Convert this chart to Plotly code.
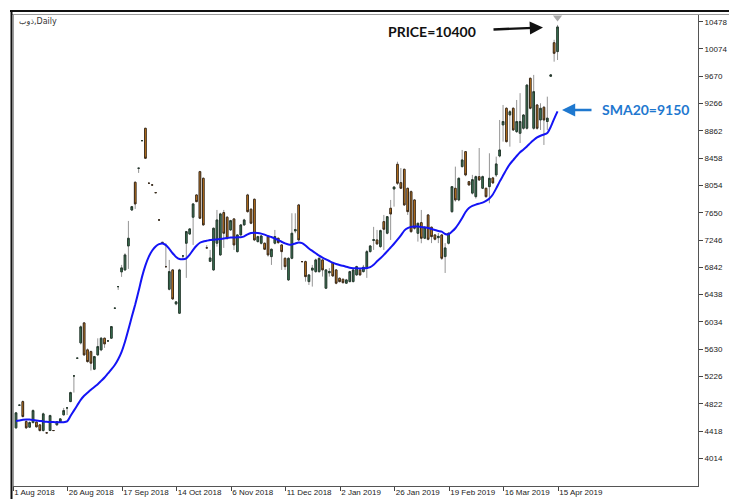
import plotly.graph_objects as go

# ---------------- data ----------------
symbol_title = "ذوب,Daily"

open_ = [
    4465, 4800, 4854, 4558, 4475, 4543, 4550, 4509, 4425, 4391,
    4425, 4425, 4509, 4553, 4657, 4760, 4854, 5234, 5496, 5723,
    6019, 5620, 5594, 5333, 5545, 5619, 5792, 5752, 5792, 6236,
    6556, 6774, 6803, 7158, 7690, 8101, 8308, 8717, 8900, 8086,
    8061, 7947, 7543, 7210, 6851, 6517, 6803, 6300, 6162, 7010,
    7198, 7335, 7583, 7913, 8258, 8160, 7130, 6930, 6803, 7198,
    7025, 7652, 7583, 7395, 7558, 7074, 7321, 7469, 7913, 7701,
    7849, 7222, 7198, 7198, 7296, 7000, 7198, 7272, 7173, 6975,
    6655, 6975, 7380, 7765, 6926, 6926, 6630, 6800, 6778, 6778,
    6951, 6532, 6760, 6911, 6803, 6680, 6665, 6606, 6630, 6630,
    6729, 6803, 6778, 6827, 7074, 7240, 7247, 7148, 7518, 7346,
    7716, 8001, 8367, 8095, 8293, 8012, 7962, 7839, 7345, 7503,
    7272, 7617, 7435, 7321, 7280, 7321, 7000, 7198, 7666, 8012,
    7839, 8332, 8554, 8110, 7940, 7888, 8184, 8012, 8012, 8036,
    8165, 8209, 8490, 8950, 9196, 9097, 9196, 8850, 8826, 8900,
    8900, 9640, 8900, 9245, 9023, 9211, 9000, 9670, 10167, 10035,
]
high = [
    4700, 4810, 4870, 4580, 4560, 4740, 4560, 4520, 4690, 4395,
    4660, 4430, 4565, 4605, 4760, 4765, 5000, 5240, 5500, 5980,
    6030, 5640, 5610, 5530, 5790, 5810, 5800, 5760, 5970, 6240,
    6560, 6877, 7050, 7528, 7750, 8110, 8312, 8722, 8905, 8090,
    8065, 7951, 7547, 7214, 7197, 6951, 6810, 6340, 6820, 7014,
    7380, 7420, 7790, 7920, 8270, 8170, 7170, 7100, 7430, 7691,
    7650, 7691, 7600, 7545, 7570, 7330, 7480, 7560, 7930, 7720,
    7860, 7310, 7320, 7210, 7310, 7120, 7395, 7280, 7180, 6990,
    6990, 7642, 7642, 7780, 6930, 6940, 6740, 6877, 6970, 6990,
    6960, 6815, 6830, 6920, 6815, 6690, 6675, 6670, 6790, 6815,
    6865, 6815, 6877, 7099, 7170, 7440, 7395, 7400, 7617, 7600,
    7839, 8036, 8405, 8312, 8300, 8020, 7980, 7850, 7500, 7691,
    7445, 7630, 7445, 7330, 7350, 7330, 7200, 7360, 8040, 8332,
    8170, 8579, 8560, 8120, 8210, 8200, 8608, 8200, 8020, 8530,
    8180, 8480, 9023, 9245, 9210, 9170, 9210, 9319, 9420, 9110,
    9550, 9650, 9690, 9260, 9270, 9230, 9368, 9700, 10210, 10430,
]
low = [
    4450, 4790, 4620, 4450, 4465, 4530, 4470, 4410, 4410, 4385,
    4420, 4420, 4500, 4545, 4650, 4655, 4845, 4987, 5490, 5700,
    5530, 5430, 5313, 5320, 5530, 5600, 5649, 5745, 5785, 6230,
    6507, 6700, 6790, 6818, 7680, 7706, 8239, 8712, 8450, 8082,
    8057, 7943, 7539, 7206, 6845, 6500, 6360, 6280, 6150, 6960,
    6685, 7320, 7173, 7806, 7560, 7460, 7126, 6920, 6790, 7148,
    7010, 7129, 7250, 7380, 7099, 7060, 7310, 7460, 7650, 7480,
    7230, 7210, 7180, 7100, 7000, 6877, 7180, 7190, 6803, 6803,
    6640, 6960, 7346, 7230, 6922, 6630, 6580, 6556, 6760, 6760,
    6704, 6520, 6704, 6700, 6590, 6620, 6600, 6595, 6620, 6620,
    6715, 6715, 6765, 6685, 7060, 7099, 7173, 7130, 7099, 7330,
    7247, 7740, 8061, 8000, 7750, 7617, 7350, 7400, 7222, 7198,
    7260, 7240, 7200, 7240, 7200, 6950, 6758, 7180, 7646, 7814,
    7820, 8320, 8190, 8050, 7920, 7860, 8120, 8000, 7870, 7790,
    8080, 8180, 8470, 8702, 8690, 8628, 8860, 8830, 8682, 8880,
    8880, 9180, 8880, 8880, 8875, 8653, 8875, 9660, 9886, 9911,
]
close = [
    4687, 4800, 4632, 4465, 4543, 4721, 4480, 4425, 4672, 4391,
    4647, 4425, 4558, 4598, 4721, 4760, 4987, 5234, 5496, 5960,
    5545, 5446, 5422, 5520, 5668, 5792, 5708, 5752, 5964, 6236,
    6556, 6833, 7025, 7272, 7740, 7780, 8308, 8717, 8456, 8086,
    8061, 7947, 7543, 7210, 6851, 6778, 6373, 6330, 6803, 7010,
    7370, 7410, 7780, 7814, 7568, 7469, 7130, 6980, 7420, 7543,
    7632, 7346, 7272, 7533, 7173, 7321, 7469, 7543, 7666, 7494,
    7247, 7296, 7306, 7109, 7025, 7109, 7296, 7207, 7074, 6852,
    6975, 7346, 7400, 7247, 6926, 6704, 6729, 6830, 6951, 6975,
    6803, 6803, 6780, 6714, 6606, 6630, 6615, 6655, 6778, 6803,
    6852, 6729, 6843, 7074, 7158, 7250, 7188, 7385, 7405, 7592,
    7631, 8031, 8086, 8012, 7765, 7666, 7370, 7420, 7494, 7272,
    7435, 7257, 7296, 7257, 7300, 6975, 7129, 7346, 8036, 7839,
    8160, 8431, 8209, 8061, 8140, 8184, 8135, 8184, 7888, 8160,
    8091, 8372, 8579, 9000, 8702, 9146, 8875, 9000, 9000, 9097,
    9540, 9196, 9442, 8900, 9196, 9023, 9050, 9690, 10010, 10400,
]
sma20 = [
    4565, 4575, 4585, 4590, 4588, 4582, 4575, 4568, 4560, 4555,
    4552, 4550, 4548, 4547, 4548, 4560, 4640, 4720, 4800, 4880,
    4940, 4985, 5030, 5070, 5110, 5160, 5210, 5270, 5330, 5395,
    5480, 5590, 5740, 5920, 6110, 6290, 6490, 6700, 6870, 7000,
    7090, 7150, 7185, 7195, 7170, 7115, 7050, 6995, 6965, 6960,
    6975, 7030, 7100, 7160, 7205, 7225, 7235, 7245, 7250, 7255,
    7260, 7268, 7275, 7282, 7284, 7285, 7288, 7300, 7330, 7350,
    7355, 7350, 7340, 7325, 7305, 7290, 7268, 7245, 7220, 7195,
    7180, 7178, 7195, 7210, 7200, 7165, 7120, 7085, 7050, 7015,
    6985, 6960, 6935, 6910, 6890, 6875, 6865, 6850, 6835, 6828,
    6826, 6825, 6826, 6830, 6845, 6880, 6930, 6975, 7025, 7080,
    7135, 7190, 7250, 7315, 7385, 7420, 7440, 7446, 7446, 7440,
    7432, 7424, 7410, 7395, 7380, 7370, 7335, 7330, 7370, 7420,
    7490, 7570, 7660, 7720, 7750, 7770, 7785, 7800, 7825, 7860,
    7920, 8010, 8110, 8200, 8290, 8370, 8430, 8490, 8545, 8585,
    8630, 8680, 8725, 8766, 8790, 8808, 8830, 8920, 9040, 9150,
]
date_labels = ["1 Aug 2018", "26 Aug 2018", "17 Sep 2018", "14 Oct 2018",
               "6 Nov 2018", "11 Dec 2018", "2 Jan 2019", "26 Jan 2019",
               "19 Feb 2019", "16 Mar 2019", "15 Apr 2019"]
bars_per_label = 16
price_ticks = [4014, 4418, 4822, 5226, 5630, 6034, 6438, 6842, 7246,
               7650, 8054, 8458, 8862, 9266, 9670, 10074, 10478]
price_label = "PRICE=10400"
sma_label = "SMA20=9150"

# ---------------- figure ----------------
W, H = 729, 499
ML, MR, MT, MB = 13, 31, 15, 13
PW, PH = W - ML - MR, H - MT - MB

idx = list(range(len(close)))
body_hi = [max(o, c) for o, c in zip(open_, close)]
body_lo = [min(o, c) for o, c in zip(open_, close)]

x_range = [-0.881, 200.24]
y_range = [3604, 10577]

def px(xp):
    return (xp - ML) / PW

def py(yp):
    return (H - MB - yp) / PH

fig = go.Figure()

# wicks (grey)
fig.add_trace(go.Candlestick(
    x=idx, open=open_, high=high, low=low, close=close,
    increasing=dict(line=dict(color="#959595", width=1), fillcolor="rgba(0,0,0,0)"),
    decreasing=dict(line=dict(color="#959595", width=1), fillcolor="rgba(0,0,0,0)"),
    showlegend=False, hoverinfo="skip",
))
# bodies
fig.add_trace(go.Candlestick(
    x=idx, open=open_, high=body_hi, low=body_lo, close=close,
    increasing=dict(line=dict(color="#263a2e", width=1), fillcolor="#3c7f5a"),
    decreasing=dict(line=dict(color="#3a2a1a", width=1), fillcolor="#e48a1c"),
    showlegend=False,
))
# SMA20
fig.add_trace(go.Scatter(
    x=idx, y=sma20, mode="lines",
    line=dict(color="#1414f5", width=2, shape="spline", smoothing=0.6),
    showlegend=False, hoverinfo="skip",
))
# grey marker at the top over the last bar
span_per_px = (y_range[1] - y_range[0]) / PH
fig.add_trace(go.Scatter(
    x=[idx[-1]], y=[y_range[1] - 2.5 * span_per_px], mode="markers",
    marker=dict(symbol="triangle-down", size=8, color="#a9a9a9"),
    cliponaxis=False, showlegend=False, hoverinfo="skip",
))

tick_font = dict(family="Liberation Sans, Arial, sans-serif", size=8, color="#222222")

fig.update_layout(
    width=W, height=H,
    margin=dict(l=ML, r=MR, t=MT, b=MB, pad=0),
    paper_bgcolor="white", plot_bgcolor="white",
    boxgap=0.32,
    xaxis=dict(
        range=x_range, type="linear", showgrid=False, zeroline=False,
        rangeslider=dict(visible=False),
        tickvals=[k * bars_per_label - 0.8 for k in range(len(date_labels))],
        ticktext=date_labels, tickangle=0,
        ticks="outside", ticklen=4, tickcolor="#444444", tickwidth=1,
        ticklabelposition="outside right", ticklabelstandoff=-2,
        showline=True, linecolor="#555555", linewidth=1,
        tickfont=tick_font, automargin=False, fixedrange=True,
    ),
    yaxis=dict(
        range=y_range, side="right", showgrid=False, zeroline=False,
        tickvals=price_ticks, ticktext=[str(v) for v in price_ticks],
        ticks="outside", ticklen=4, tickcolor="#444444", tickwidth=1,
        showline=True, linecolor="#555555", linewidth=1,
        tickfont=tick_font, automargin=False, fixedrange=True,
    ),
    annotations=[
        dict(text=symbol_title, xref="paper", yref="paper", x=px(17), y=py(21),
             xanchor="left", yanchor="middle", showarrow=False,
             font=dict(family="DejaVu Sans, Liberation Sans, sans-serif", size=8, color="#333333")),
        dict(text=price_label, xref="paper", yref="paper", x=px(431.5), y=py(32),
             xanchor="center", yanchor="middle", showarrow=False,
             font=dict(family="Lato, sans-serif", size=14, color="#111111", weight="bold")),
        dict(text="", xref="paper", yref="paper", x=px(543), y=py(27.5),
             ax=-51, ay=2, axref="pixel", ayref="pixel",
             showarrow=True, arrowhead=2, arrowsize=1.1, arrowwidth=2.4,
             arrowcolor="#111111", standoff=0),
        dict(text=sma_label, xref="paper", yref="paper", x=px(645), y=py(110),
             xanchor="center", yanchor="middle", showarrow=False,
             font=dict(family="Lato, sans-serif", size=14, color="#1f78cf", weight="bold")),
        dict(text="", xref="paper", yref="paper", x=px(562), y=py(110),
             ax=31, ay=0, axref="pixel", ayref="pixel",
             showarrow=True, arrowhead=2, arrowsize=1.1, arrowwidth=2.4,
             arrowcolor="#1f78cf", standoff=0),
    ],
    shapes=[
        dict(type="line", xref="paper", yref="paper", x0=px(10), x1=px(729), y0=py(11), y1=py(11),
             line=dict(color="#111111", width=2)),
        dict(type="line", xref="paper", yref="paper", x0=px(12), x1=px(729), y0=py(14.5), y1=py(14.5),
             line=dict(color="#9a9a9a", width=1)),
        dict(type="line", xref="paper", yref="paper", x0=px(11.5), x1=px(11.5), y0=py(10), y1=py(499),
             line=dict(color="#111111", width=2)),
        dict(type="line", xref="paper", yref="paper", x0=px(13.5), x1=px(13.5), y0=py(14), y1=py(486),
             line=dict(color="#9a9a9a", width=1)),
    ],
)

fig.write_html(
    "out.html",
    config={"displayModeBar": False},
    post_script="document.body.style.margin='0';document.body.style.padding='0';"
                "document.documentElement.style.overflow='hidden';",
)
